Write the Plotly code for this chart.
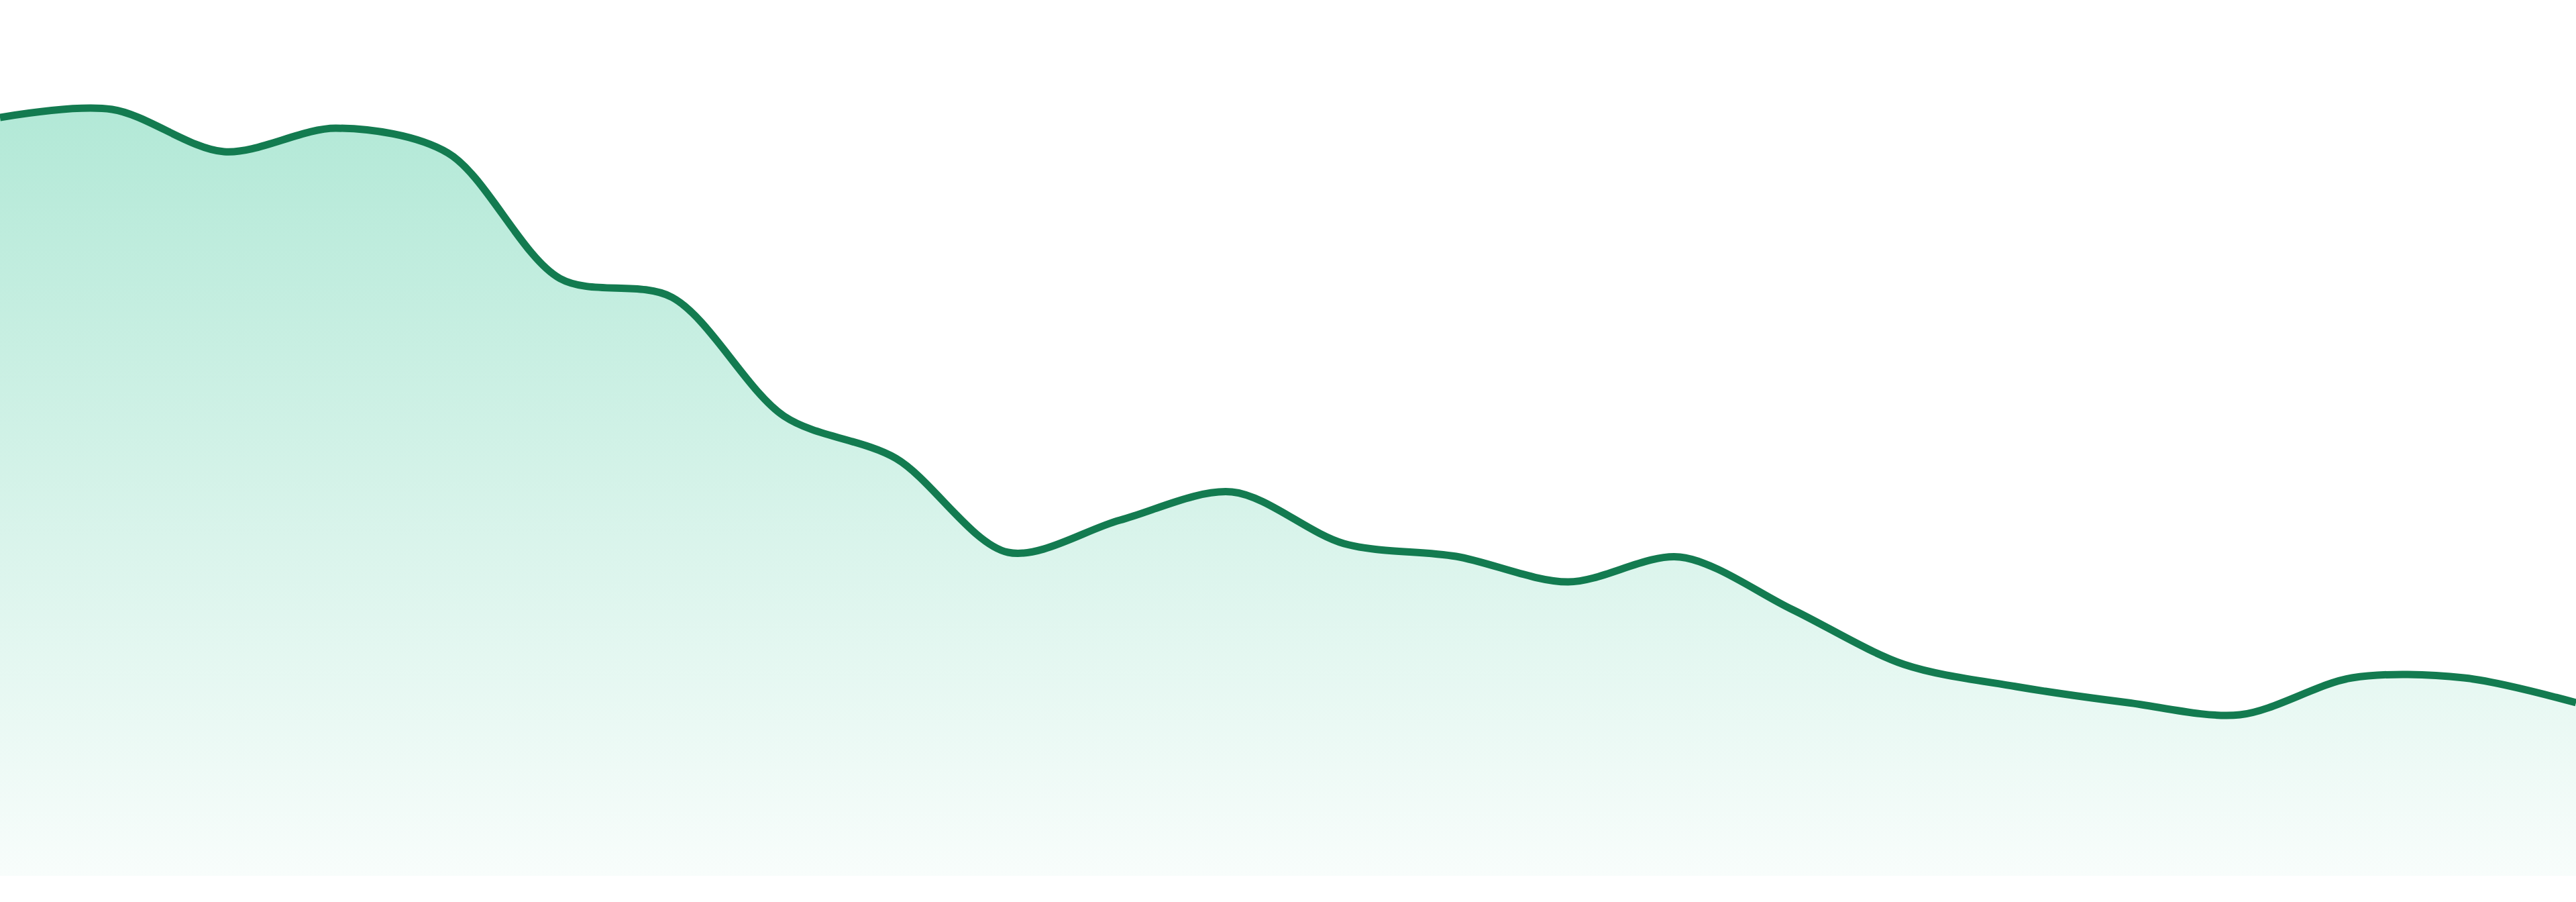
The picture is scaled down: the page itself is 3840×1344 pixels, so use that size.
import plotly.graph_objects as go

# Values (24 evenly spaced points)
idx = list(range(24))
values = [113.0, 114.2, 107.9, 111.4, 107.7, 89.0, 86.2, 68.5, 62.2, 48.2, 53.0, 57.2,
          49.5, 47.6, 43.8, 47.5, 39.7, 31.5, 28.2, 25.8, 24.0, 29.5, 29.5, 25.8]

line_color = '#137b50'

fig = go.Figure()
fig.add_trace(go.Scatter(
    x=idx, y=values, mode='lines',
    line=dict(color=line_color, width=11, shape='spline', smoothing=0.9),
    fill='tozeroy',
    fillgradient=dict(
        type='vertical',
        colorscale=[[0, 'rgba(16,185,129,0.03)'], [1, 'rgba(16,185,129,0.32)']],
        start=0, stop=114,
    ),
    hoverinfo='skip',
))

fig.update_layout(
    width=3840, height=1344,
    plot_bgcolor='white', paper_bgcolor='white',
    margin=dict(l=0, r=0, t=0, b=39),
    showlegend=False,
    xaxis=dict(range=[0, 23], visible=False, showgrid=False, zeroline=False),
    yaxis=dict(range=[0, 130.5], visible=False, showgrid=False, zeroline=False),
)

# drop the browser's default body margin so the chart sits flush
fig.write_html("out.html", config={'displayModeBar': False},
               post_script="document.body.style.margin='0';")
